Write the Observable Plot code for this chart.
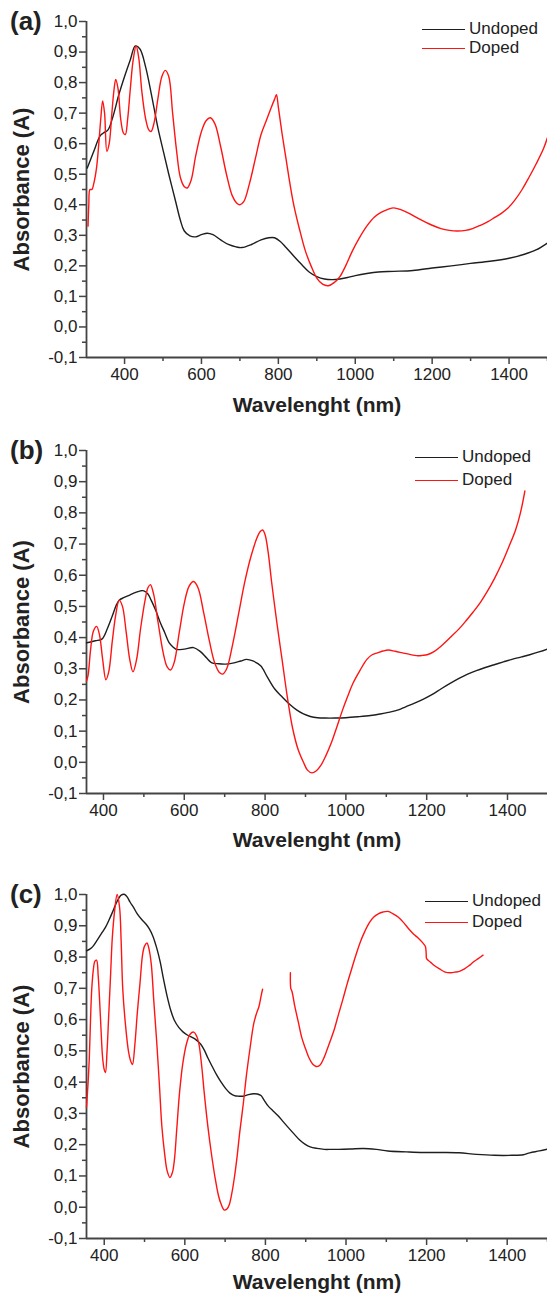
<!DOCTYPE html>
<html>
<head>
<meta charset="utf-8">
<script src="https://cdn.jsdelivr.net/npm/d3@7"></script>
<script src="https://cdn.jsdelivr.net/npm/@observablehq/plot@0.6"></script>
<style>
  html, body { margin: 0; padding: 0; background: #fff; }
  #chart { width: 547px; }
  .panel { position: relative; width: 547px; overflow: hidden; }
  .panel svg { display: block; }
  .plabel { position: absolute; left: 10px; font: bold 26px "Liberation Sans", Arial, sans-serif; color: #222; transform: translateY(-50%); }
  .legend { position: absolute; font: 17px "Liberation Sans", Arial, sans-serif; color: #222; }
  .legend .row { position: absolute; white-space: nowrap; display: flex; align-items: center; transform: translateY(-50%); }
  .legend .sw { display: inline-block; width: 43px; height: 0; margin-right: 4px; }
  g[aria-label="x-axis label"] text, g[aria-label="x-axis label"] { font-weight: bold; font-size: 21px; }
  g[aria-label="y-axis label"] text, g[aria-label="y-axis label"] { font-weight: bold; font-size: 22px; }
</style>
</head>
<body>
<div id="chart"></div>
<script>
// ---------- tick values ----------
const yTicks = [-0.1, 0.0, 0.1, 0.2, 0.3, 0.4, 0.5, 0.6, 0.7, 0.8, 0.9, 1.0];
const yMinorTicks = [-0.05, 0.05, 0.15, 0.25, 0.35, 0.45, 0.55, 0.65, 0.75, 0.85, 0.95];
const xTicks = [400, 600, 800, 1000, 1200, 1400];
const xMinorTicks = [500, 700, 900, 1100, 1300, 1500];
const seriesNames = ["Undoped", "Doped"];
const panelNames = ["(a)", "(b)", "(c)"];

// ---------- panel (a) ----------
const aUndoped = [[303,0.52],[320,0.575],[336,0.625],[345,0.635],[357,0.645],[370,0.69],[385,0.76],[400,0.82],[415,0.875],[428,0.92],[440,0.91],[455,0.85],[470,0.76],[487,0.65],[500,0.58],[515,0.5],[533,0.41],[545,0.35],[555,0.315],[570,0.298],[585,0.295],[600,0.302],[615,0.307],[630,0.302],[650,0.285],[670,0.27],[690,0.262],[705,0.26],[730,0.27],[755,0.285],[775,0.292],[790,0.292],[805,0.28],[820,0.26],[840,0.232],[860,0.205],[880,0.18],[900,0.165],[920,0.157],[940,0.155],[960,0.157],[980,0.162],[1000,0.168],[1030,0.175],[1060,0.18],[1100,0.182],[1150,0.185],[1200,0.193],[1250,0.2],[1300,0.208],[1350,0.215],[1400,0.225],[1440,0.238],[1470,0.252],[1500,0.275]];
const aDoped = [[305,0.33],[307,0.40],[310,0.45],[315,0.45],[320,0.47],[327,0.52],[333,0.6],[338,0.68],[343,0.74],[348,0.7],[354,0.575],[360,0.6],[367,0.7],[372,0.77],[377,0.81],[383,0.78],[390,0.68],[397,0.635],[402,0.63],[408,0.68],[415,0.78],[422,0.87],[430,0.92],[437,0.88],[445,0.77],[455,0.68],[463,0.645],[469,0.64],[477,0.67],[487,0.75],[497,0.82],[506,0.84],[515,0.82],[525,0.7],[535,0.58],[545,0.49],[555,0.46],[563,0.455],[573,0.48],[585,0.56],[600,0.64],[612,0.675],[623,0.685],[635,0.665],[650,0.59],[665,0.5],[680,0.43],[692,0.405],[700,0.40],[710,0.41],[725,0.47],[740,0.55],[755,0.63],[770,0.68],[782,0.72],[790,0.745],[795,0.76],[800,0.72],[810,0.63],[820,0.55],[830,0.47],[840,0.40],[855,0.32],[870,0.25],[885,0.2],[900,0.16],[915,0.14],[930,0.135],[945,0.145],[960,0.165],[975,0.2],[993,0.25],[1010,0.29],[1030,0.33],[1050,0.36],[1067,0.375],[1085,0.385],[1100,0.39],[1120,0.383],[1140,0.372],[1160,0.358],[1180,0.345],[1200,0.333],[1223,0.322],[1245,0.316],[1265,0.314],[1287,0.316],[1305,0.322],[1324,0.332],[1345,0.345],[1361,0.357],[1380,0.372],[1398,0.39],[1415,0.415],[1434,0.45],[1452,0.49],[1471,0.535],[1490,0.585],[1500,0.62]];

// ---------- panel (b) ----------
const bUndoped = [[358,0.383],[365,0.385],[380,0.39],[396,0.395],[410,0.43],[422,0.47],[432,0.505],[439,0.52],[450,0.528],[466,0.537],[480,0.545],[492,0.55],[500,0.55],[510,0.54],[518,0.52],[530,0.485],[540,0.45],[552,0.415],[562,0.385],[572,0.37],[580,0.362],[600,0.363],[623,0.368],[640,0.355],[655,0.335],[667,0.32],[685,0.316],[702,0.315],[720,0.318],[740,0.325],[754,0.33],[770,0.325],[789,0.31],[805,0.275],[824,0.235],[842,0.21],[860,0.187],[878,0.168],[895,0.155],[912,0.147],[930,0.143],[950,0.142],[973,0.142],[1000,0.143],[1030,0.146],[1061,0.15],[1085,0.155],[1105,0.16],[1130,0.168],[1148,0.178],[1170,0.19],[1192,0.203],[1214,0.218],[1236,0.236],[1258,0.253],[1280,0.269],[1300,0.282],[1323,0.294],[1345,0.304],[1367,0.313],[1390,0.322],[1411,0.33],[1435,0.338],[1455,0.345],[1480,0.355],[1500,0.364]];
const bDoped = [[358,0.26],[362,0.28],[368,0.36],[375,0.42],[383,0.436],[390,0.41],[398,0.33],[406,0.265],[413,0.29],[422,0.39],[430,0.47],[439,0.52],[447,0.5],[456,0.42],[465,0.33],[473,0.29],[482,0.33],[492,0.43],[503,0.52],[510,0.56],[516,0.57],[524,0.54],[535,0.45],[548,0.35],[558,0.305],[566,0.296],[575,0.32],[588,0.42],[600,0.51],[612,0.565],[623,0.58],[634,0.56],[648,0.48],[662,0.39],[675,0.32],[687,0.288],[695,0.283],[705,0.3],[720,0.38],[735,0.48],[750,0.58],[765,0.66],[780,0.72],[788,0.74],[794,0.745],[800,0.73],[808,0.67],[816,0.58],[830,0.44],[842,0.33],[855,0.21],[868,0.11],[882,0.04],[895,0.0],[905,-0.025],[916,-0.034],[927,-0.027],[938,-0.01],[950,0.02],[965,0.066],[978,0.115],[991,0.165],[1004,0.21],[1017,0.252],[1035,0.295],[1052,0.33],[1065,0.345],[1078,0.351],[1092,0.357],[1105,0.36],[1122,0.356],[1140,0.351],[1158,0.346],[1175,0.342],[1190,0.343],[1201,0.345],[1218,0.355],[1236,0.373],[1258,0.4],[1280,0.428],[1298,0.455],[1315,0.482],[1333,0.513],[1350,0.548],[1368,0.59],[1385,0.635],[1403,0.69],[1420,0.745],[1432,0.8],[1443,0.87]];

// ---------- panel (c) ----------
const cUndoped = [[356,0.82],[365,0.826],[372,0.834],[383,0.855],[394,0.877],[403,0.895],[411,0.916],[420,0.942],[429,0.97],[436,0.988],[442,0.998],[451,1.0],[458,0.99],[464,0.976],[473,0.958],[482,0.938],[493,0.92],[504,0.905],[512,0.89],[521,0.866],[530,0.83],[539,0.784],[547,0.73],[556,0.675],[565,0.63],[574,0.598],[585,0.575],[596,0.56],[607,0.55],[618,0.543],[628,0.535],[639,0.522],[648,0.503],[657,0.478],[668,0.45],[679,0.423],[690,0.4],[701,0.38],[712,0.365],[723,0.357],[734,0.355],[745,0.355],[758,0.36],[771,0.363],[780,0.362],[789,0.357],[797,0.342],[806,0.325],[819,0.308],[832,0.292],[845,0.272],[858,0.253],[872,0.233],[885,0.215],[898,0.202],[911,0.193],[928,0.188],[946,0.185],[964,0.185],[981,0.185],[1010,0.186],[1043,0.188],[1075,0.185],[1104,0.18],[1150,0.177],[1192,0.175],[1240,0.175],[1280,0.174],[1324,0.169],[1368,0.166],[1412,0.166],[1440,0.168],[1456,0.174],[1480,0.18],[1500,0.186]];
const cDoped = [[356,0.32],[360,0.4],[363,0.478],[366,0.6],[369,0.697],[373,0.76],[377,0.787],[381,0.79],[385,0.74],[388,0.675],[392,0.57],[396,0.478],[400,0.44],[403,0.43],[407,0.5],[411,0.61],[416,0.75],[420,0.861],[426,0.95],[432,1.0],[438,0.96],[442,0.85],[446,0.697],[453,0.58],[460,0.5],[465,0.47],[470,0.456],[476,0.52],[482,0.62],[489,0.72],[495,0.806],[500,0.835],[506,0.845],[512,0.82],[517,0.774],[523,0.66],[530,0.533],[537,0.39],[543,0.259],[550,0.17],[556,0.117],[563,0.095],[569,0.11],[574,0.15],[580,0.25],[587,0.368],[595,0.46],[604,0.522],[613,0.553],[622,0.56],[630,0.545],[635,0.522],[642,0.45],[648,0.368],[657,0.26],[666,0.171],[675,0.095],[683,0.04],[690,0.01],[698,-0.009],[705,-0.005],[710,0.007],[716,0.04],[723,0.095],[730,0.165],[736,0.237],[745,0.33],[753,0.423],[762,0.51],[771,0.587],[778,0.62],[784,0.642],[790,0.68],[793,0.697],
  [827,NaN],
  [862,0.75],[863,0.70],[866,0.69],[873,0.642],[882,0.59],[890,0.543],[900,0.505],[908,0.478],[917,0.458],[926,0.45],[933,0.452],[939,0.461],[946,0.48],[952,0.5],[961,0.532],[970,0.565],[981,0.615],[992,0.664],[1003,0.715],[1014,0.762],[1025,0.808],[1036,0.85],[1047,0.883],[1058,0.91],[1069,0.928],[1080,0.938],[1092,0.944],[1104,0.946],[1117,0.938],[1130,0.927],[1143,0.91],[1157,0.888],[1168,0.873],[1179,0.861],[1190,0.846],[1197,0.834],[1199,0.81],[1200,0.795],[1210,0.783],[1219,0.773],[1232,0.762],[1246,0.752],[1259,0.75],[1272,0.752],[1283,0.755],[1294,0.762],[1305,0.772],[1316,0.784],[1328,0.795],[1340,0.806]];

const fmt = d => d.toFixed(1).replace(".", ",");
const AXIS = "#444";
const BLACK = "#1e1e1e";
const RED = "#ff1414";

const panels = [
  {name: panelNames[0], und: aUndoped, dop: aDoped, x0: 301, x1: 1500, height: 425, mt: 21, mb: 68, xlo: 54, legX: 422, legY: [29, 48]},
  {name: panelNames[1], und: bUndoped, dop: bDoped, x0: 358, x1: 1499, height: 443, mt: 25, mb: 75, xlo: 53, legX: 415, legY: [32, 55]},
  {name: panelNames[2], und: cUndoped, dop: cDoped, x0: 356, x1: 1500, height: 427, mt: 26, mb: 57, xlo: 50, legX: 425, legY: [33, 54]}
];

const root = document.getElementById("chart");
for (const p of panels) {
  const toRows = arr => arr.map(([x, y]) => ({x, y}));
  const chart = Plot.plot({
    width: 547,
    height: p.height,
    marginLeft: 86,
    marginRight: 0,
    marginTop: p.mt,
    marginBottom: p.mb,
    x: {domain: [p.x0, p.x1], label: null},
    y: {domain: [-0.1, 1.0], label: null},
    style: {fontFamily: "'Liberation Sans', Arial, sans-serif", fontSize: "17px", color: "#222", background: "#fff", overflow: "visible"},
    marks: [
      Plot.axisY(yTicks, {tickSize: 7, tickPadding: 2, tickFormat: fmt, stroke: AXIS, strokeWidth: 1.5,
        label: "Absorbance (A)", labelAnchor: "center", labelOffset: 73, labelArrow: "none"}),
      Plot.axisY(yMinorTicks, {tickSize: 4, tickFormat: () => "", stroke: AXIS, strokeWidth: 1.5, label: null}),
      Plot.axisX(xTicks, {tickSize: 7, tickPadding: 3, tickFormat: d => String(d), stroke: AXIS, strokeWidth: 1.5,
        label: "Wavelenght (nm)", labelAnchor: "center", labelOffset: p.xlo, labelArrow: "none"}),
      Plot.axisX(xMinorTicks, {tickSize: 4, tickFormat: () => "", stroke: AXIS, strokeWidth: 1.5, label: null}),
      Plot.ruleX([p.x0], {stroke: AXIS, strokeWidth: 1.8}),
      Plot.ruleY([-0.1], {stroke: AXIS, strokeWidth: 1.8}),
      Plot.line(toRows(p.und), {x: "x", y: "y", stroke: BLACK, strokeWidth: 1.4, curve: "catmull-rom"}),
      Plot.line(toRows(p.dop), {x: "x", y: "y", stroke: RED, strokeWidth: 1.4, curve: "catmull-rom"})
    ]
  });
  const div = document.createElement("div");
  div.className = "panel";
  div.style.height = p.height + "px";
  div.appendChild(chart);

  const lab = document.createElement("div");
  lab.className = "plabel";
  lab.style.top = p.mt + "px";
  lab.textContent = p.name;
  div.appendChild(lab);

  const leg = document.createElement("div");
  leg.className = "legend";
  leg.style.left = p.legX + "px";
  leg.style.top = "0px";
  [BLACK, RED].forEach((c, i) => {
    const row = document.createElement("div");
    row.className = "row";
    row.style.top = p.legY[i] + "px";
    const sw = document.createElement("span");
    sw.className = "sw";
    sw.style.borderTop = "1.6px solid " + c;
    row.appendChild(sw);
    const t = document.createElement("span");
    t.textContent = seriesNames[i];
    row.appendChild(t);
    leg.appendChild(row);
  });
  div.appendChild(leg);
  root.appendChild(div);
}
</script>
</body>
</html>
